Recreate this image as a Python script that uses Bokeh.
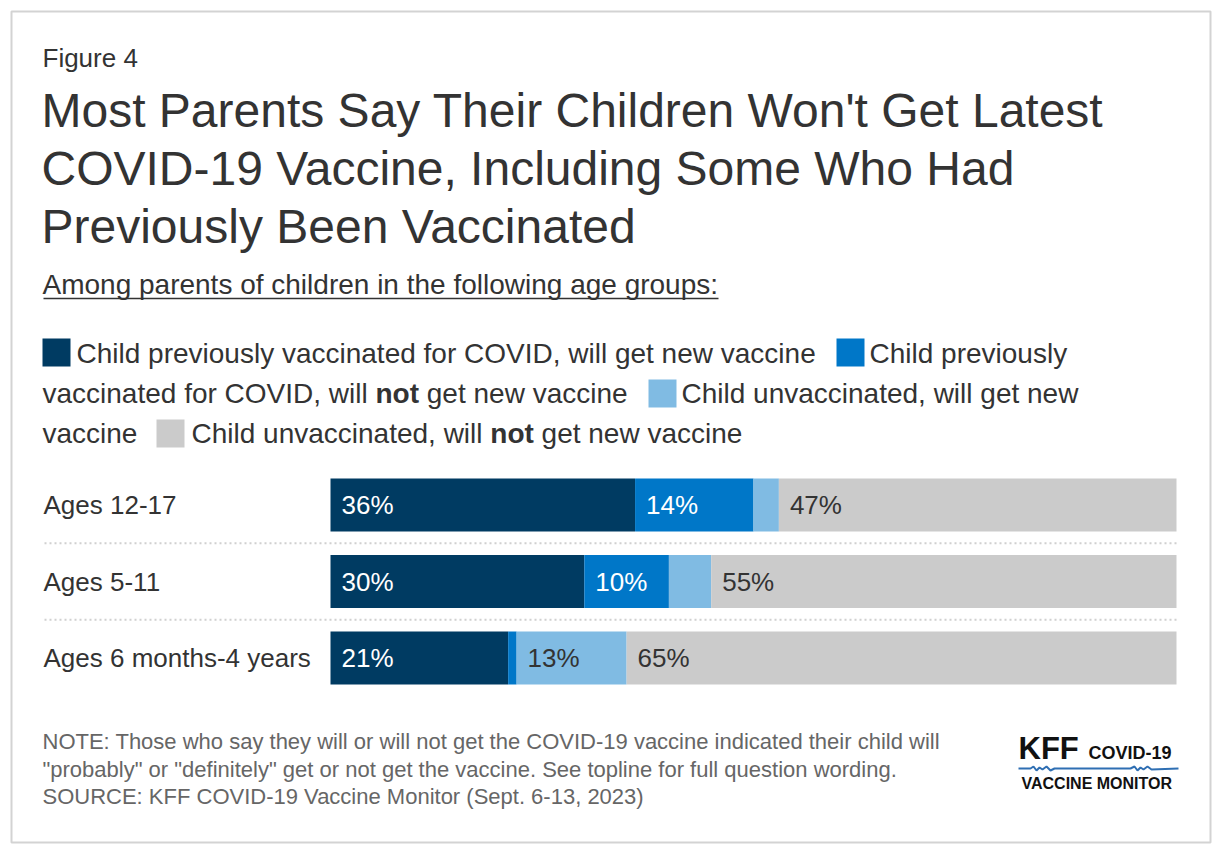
from bokeh.plotting import figure
from bokeh.models import Range1d, ColumnDataSource
from bokeh.embed import file_html
from bokeh.resources import INLINE
from bokeh.core.properties import value

# ---------------- data ----------------
categories = ["Ages 12-17", "Ages 5-11", "Ages 6 months-4 years"]
series_names = [
    "Child previously vaccinated for COVID, will get new vaccine",
    "Child previously vaccinated for COVID, will not get new vaccine",
    "Child unvaccinated, will get new vaccine",
    "Child unvaccinated, will not get new vaccine",
]
prev_vax_will_get = [36, 30, 21]
prev_vax_will_not = [14, 10, 1]
unvax_will_get = [3, 5, 13]
unvax_will_not = [47, 55, 65]
series_values = [prev_vax_will_get, prev_vax_will_not, unvax_will_get, unvax_will_not]
series_colors = ["#003B62", "#0077C8", "#80BBE3", "#CBCBCB"]
label_colors = ["#FFFFFF", "#FFFFFF", "#333333", "#333333"]

title_lines = [
    "Most Parents Say Their Children Won't Get Latest",
    "COVID-19 Vaccine, Including Some Who Had",
    "Previously Been Vaccinated",
]
note_lines = [
    "NOTE: Those who say they will or will not get the COVID-19 vaccine indicated their child will",
    "\"probably\" or \"definitely\" get or not get the vaccine. See topline for full question wording.",
    "SOURCE: KFF COVID-19 Vaccine Monitor (Sept. 6-13, 2023)",
]

# ---------------- layout (page pixels) ----------------
W, H = 1216, 848
FONT = "Liberation Sans"
TXT = "#333333"

BAR_L, BAR_R = 330, 1176          # where 0% and 100% sit
ROW0, PITCH = 504.5, 76.5         # centre of first row, row pitch
BAR_H = 53 / PITCH

p = figure(width=W, height=H, x_range=Range1d(0, W), y_range=Range1d(H, 0),
           output_backend="svg", toolbar_location=None,
           x_axis_type=None, y_axis_type=None, min_border=0,
           outline_line_color=None, background_fill_color="white",
           border_fill_color="white")

span_pct = 100 * W / (BAR_R - BAR_L)
pct_start = -100 * BAR_L / (BAR_R - BAR_L)
p.extra_x_ranges = {"pct": Range1d(pct_start, pct_start + span_pct)}
cat_top = -ROW0 / PITCH
p.extra_y_ranges = {"cat": Range1d(cat_top + H / PITCH, cat_top)}


def txt(x, y, s, size, color=TXT, bold=False, font=FONT):
    p.text(x=[x], y=[y], text=[s], text_font=value(font),
           text_font_size=f"{size}px", text_color=color,
           text_font_style="bold" if bold else "normal",
           text_baseline="middle", text_align="left")


# card border
p.quad(left=[11], right=[1210], top=[11], bottom=[842], fill_color=None,
       line_color="#D3D3D3", line_width=2)

# header
txt(42, 57, "Figure 4", 26)
for i, line in enumerate(title_lines):
    txt(41, 110 + i * 58, line, 48)
txt(42, 284, "Among parents of children in the following age groups:", 28)
p.segment(x0=[43], x1=[718], y0=[298], y1=[298], line_color=TXT, line_width=1.6)

# legend (wrapped like the original)
SW = 28
swatches = [(42, 338), (836, 338), (648, 379), (156, 419)]
for (sx, sy), col in zip(swatches, series_colors):
    p.quad(left=[sx], right=[sx + SW], top=[sy], bottom=[sy + SW],
           fill_color=col, line_color=None)
LS = 28
sp = 0.278 * LS
txt(76, 353, "Child previously vaccinated for COVID, will get new vaccine", LS)
txt(869, 353, "Child previously", LS)
txt(42, 393, "vaccinated for COVID, will", LS)
txt(375, 393, "not", LS, bold=True)
txt(418.5 + sp, 393, "get new vaccine", LS)
txt(681, 393, "Child unvaccinated, will get new", LS)
txt(42, 433, "vaccine", LS)
txt(191, 433, "Child unvaccinated, will", LS)
txt(489.8, 433, "not", LS, bold=True)
txt(533.3 + sp, 433, "get new vaccine", LS)

# bars
ypos = list(range(len(categories)))
cum = [0] * len(categories)
for name, vals, col, lcol in zip(series_names, series_values, series_colors, label_colors):
    left = list(cum)
    right = [a + b for a, b in zip(cum, vals)]
    src = ColumnDataSource(dict(y=ypos, left=left, right=right,
                                lab=[f"{v}%" if v >= 8 else "" for v in vals]))
    p.hbar(y="y", left="left", right="right", height=BAR_H, source=src,
           fill_color=col, line_color=None,
           x_range_name="pct", y_range_name="cat")
    p.text(x="left", y="y", text="lab", source=src, x_offset=11,
           text_font=value(FONT), text_font_size="26px", text_color=lcol,
           text_baseline="middle", text_align="left",
           x_range_name="pct", y_range_name="cat")
    cum = right

# category labels
p.text(x=[43] * len(categories), y=ypos, text=categories,
       text_font=value(FONT), text_font_size="26px", text_color=TXT,
       text_baseline="middle", text_align="left", y_range_name="cat")

# dotted separators between rows
mids = [i + 0.5 for i in ypos[:-1]]
p.segment(x0=[44] * len(mids), x1=[1176] * len(mids), y0=mids, y1=mids,
          line_color="#D0D0D0", line_width=2, line_dash="2 3", y_range_name="cat")

# notes
for i, line in enumerate(note_lines):
    txt(42, 741 + i * 27.5, line, 22, color="#666666")

# logo
txt(1018, 748, "KFF", 31, color="#111111", bold=True)
txt(1088, 752, "COVID-19", 18, color="#111111", bold=True)
wx = [1018, 1030, 1033, 1036, 1039, 1042, 1046, 1050, 1054, 1130, 1134, 1137, 1140, 1143, 1147, 1151, 1178]
wy = [768, 768, 766, 770, 767, 769, 766, 770, 768, 768, 766, 770, 767, 769, 766, 769, 768]
p.line(x=wx, y=wy, line_color="#2F6FB3", line_width=2)
txt(1021, 783, "VACCINE MONITOR", 16, color="#111111", bold=True)

open("out.html", "w").write(file_html(p, INLINE))
